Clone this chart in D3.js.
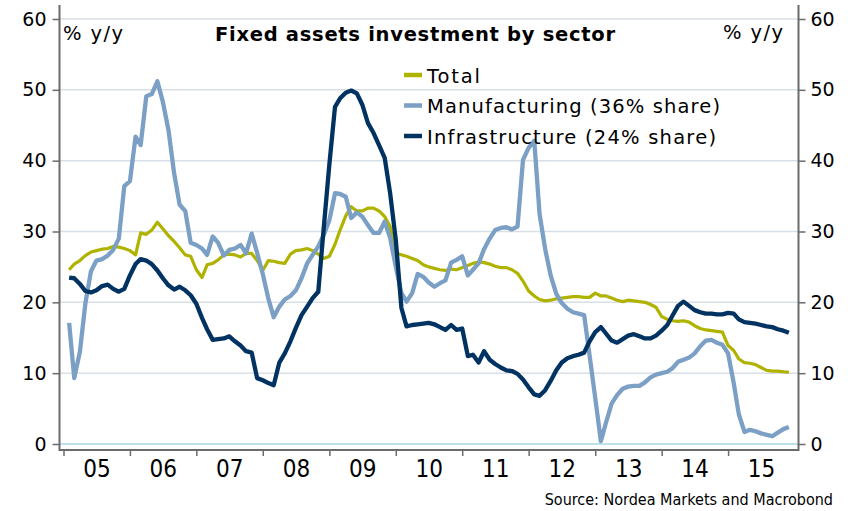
<!DOCTYPE html>
<html>
<head>
<meta charset="utf-8">
<title>Fixed assets investment by sector</title>
<script src="https://d3js.org/d3.v7.min.js"></script>
<style>
body { margin: 0; background: #fff; }
svg text { font-family: "DejaVu Sans", Verdana, sans-serif; fill: #000; }
.grid line { stroke: #d7dfe7; stroke-width: 1.5px; }
.grid line.zero { stroke: #a9d4e6; }
.frame { stroke: #6b6b6b; stroke-width: 2px; }
.axis path { display: none; }
.axis line { stroke: #6b6b6b; stroke-width: 1.5px; }
.axis text { font-size: 19px; }
.xaxis text { font-family: "Liberation Sans Narrow", "DejaVu Sans Condensed", sans-serif; font-size: 24px; }
.series { fill: none; stroke-linejoin: round; }
.source { font-family: "Liberation Sans Narrow", "DejaVu Sans Condensed", sans-serif; font-size: 16px; }
</style>
</head>
<body>
<svg id="chart" width="848" height="511"></svg>
<script>

// monthly, Feb 2005 .. Dec 2015, % y/y
var total = [
  24.6, 25.4, 25.9, 26.6, 27.1, 27.3, 27.5, 27.6, 27.9, 27.8, 27.6,
  27.3, 26.7, 29.8, 29.6, 30.2, 31.3, 30.4, 29.4, 28.6, 27.7, 26.7, 26.5,
  24.6, 23.5, 25.3, 25.5, 26.0, 26.7, 26.8, 26.7, 26.4, 26.9, 26.9, 25.9,
  24.5, 25.9, 25.8, 25.6, 25.5, 26.8, 27.3, 27.4, 27.6, 27.3, 26.8, 26.2,
  26.5, 28.2, 30.2, 32.2, 33.5, 32.9, 32.9, 33.3, 33.3, 32.9, 32.1, 30.7,
  27.0, 26.7, 26.5, 26.2, 25.9, 25.3, 25.0, 24.8, 24.6, 24.5, 24.7, 24.6,
  24.9, 25.2, 25.5, 25.7, 25.6, 25.4, 25.1, 24.9, 24.9, 24.6, 24.1, 23.0,
  21.6, 20.9, 20.4, 20.2, 20.3, 20.5, 20.6, 20.7, 20.8, 20.8, 20.7, 20.7,
  21.3, 20.9, 20.9, 20.6, 20.3, 20.1, 20.3, 20.2, 20.1, 20.0, 19.7, 19.3,
  18.0, 17.6, 17.4, 17.3, 17.4, 17.2, 16.7, 16.3, 16.1, 16.0, 15.9, 15.8,
  13.9, 13.2, 12.0, 11.5, 11.4, 11.2, 10.8, 10.4, 10.3, 10.3, 10.2, 10.1
];
var manufacturing = [
  17.1, 9.3, 13.0, 19.8, 24.4, 25.9, 26.1, 26.6, 27.4, 29.0, 36.4,
  37.1, 43.4, 42.2, 49.1, 49.4, 51.2, 48.3, 44.3, 38.2, 33.8, 32.9, 28.4,
  28.1, 27.6, 26.7, 29.3, 28.4, 26.6, 27.4, 27.6, 28.1, 26.9, 29.7, 27.0,
  24.0, 20.5, 17.9, 19.4, 20.4, 20.9, 21.7, 23.4, 25.5, 26.7, 27.9, 29.5,
  31.6, 35.4, 35.3, 34.9, 31.9, 32.7, 32.1, 30.9, 29.8, 29.8, 31.4, 29.1,
  25.0, 21.3, 20.1, 21.3, 24.0, 23.6, 22.8, 22.2, 22.7, 23.1, 25.6, 26.0,
  26.5, 23.8, 24.6, 25.5, 27.5, 29.0, 30.2, 30.5, 30.6, 30.3, 30.7, 40.1,
  41.8, 42.8, 32.5, 27.5, 23.8, 21.2, 19.9, 19.1, 18.6, 18.4, 18.2, 12.5,
  6.5, 0.4, 3.0, 5.7, 6.9, 7.8, 8.1, 8.2, 8.2, 8.7, 9.4, 9.8,
  10.0, 10.2, 10.7, 11.6, 11.9, 12.2, 12.8, 13.8, 14.6, 14.7, 14.3, 14.0,
  12.8, 8.6, 4.2, 1.7, 2.0, 1.8, 1.5, 1.3, 1.1, 1.6, 2.1, 2.4
];
var infrastructure = [
  23.5, 23.4, 22.6, 21.6, 21.4, 21.7, 22.3, 22.5, 21.9, 21.5, 21.9,
  23.8, 25.4, 26.1, 25.9, 25.4, 24.5, 23.4, 22.4, 21.8, 22.2, 21.7, 21.0,
  19.8, 17.8, 16.2, 14.7, 14.8, 14.9, 15.2, 14.5, 13.9, 13.1, 12.9, 9.3,
  9.0, 8.6, 8.3, 11.5, 12.8, 14.5, 16.4, 18.2, 19.4, 20.6, 21.5, 30.5,
  39.5, 47.6, 48.8, 49.6, 49.9, 49.5, 47.9, 45.3, 43.9, 42.2, 40.4, 35.4,
  28.8, 19.2, 16.6, 16.8, 16.9, 17.0, 17.1, 16.9, 16.5, 16.1, 16.8, 16.1,
  16.3, 12.4, 12.6, 11.5, 13.1, 11.9, 11.3, 10.8, 10.4, 10.3, 9.9, 9.1,
  8.0, 7.0, 6.8, 7.6, 8.9, 10.4, 11.5, 12.1, 12.4, 12.6, 12.9, 14.5,
  15.8, 16.5, 15.6, 14.6, 14.3, 14.8, 15.3, 15.5, 15.2, 14.9, 14.9, 15.3,
  16.0, 16.8, 18.1, 19.5, 20.1, 19.5, 18.9, 18.6, 18.4, 18.4, 18.3, 18.3,
  18.5, 18.4, 17.6, 17.2, 17.1, 17.0, 16.8, 16.6, 16.5, 16.2, 16.0, 15.7
];

var seriesNames = ["Total", "Manufacturing (36% share)", "Infrastructure (24% share)"];
var seriesColors = ["#afb300", "#7b9fc5", "#003262"];
var yTickValues = [0, 10, 20, 30, 40, 50, 60];
var yearLabels = ["05", "06", "07", "08", "09", "10", "11", "12", "13", "14", "15"];

var firstMonth = new Date(2005, 1, 1);
var months = total.map(function (d, i) { return d3.timeMonth.offset(firstMonth, i); });
var yearStarts = yearLabels.map(function (d, i) { return new Date(2005 + i, 0, 1); });
var yearMids = yearLabels.map(function (d, i) { return new Date(2005 + i, 6, 1); });

var svg = d3.select("#chart");

var plotLeft = 59.5, plotRight = 798.5, plotTop = 5, plotBottom = 450;

var x = d3.scaleTime()
    .domain([new Date(2005, 0, 1), new Date(2016, 0, 1)])
    .range([63.5, 794.5]);
// 0 sits at y=444, 60 at y=19
var y = d3.scaleLinear()
    .domain([0, 60])
    .range([444, 19]);

// grid
var grid = svg.append("g").attr("class", "grid");
grid.selectAll("line")
    .data(yTickValues)
  .enter().append("line")
    .classed("zero", function (d) { return d === 0; })
    .attr("x1", plotLeft)
    .attr("x2", plotRight)
    .attr("y1", function (d) { return y(d); })
    .attr("y2", function (d) { return y(d); });

// axes
svg.append("g")
    .attr("class", "axis")
    .attr("transform", "translate(" + plotLeft + ",0)")
    .call(d3.axisLeft(y).tickValues(yTickValues).tickSize(7).tickPadding(6).tickSizeOuter(0));

svg.append("g")
    .attr("class", "axis")
    .attr("transform", "translate(" + plotRight + ",0)")
    .call(d3.axisRight(y).tickValues(yTickValues).tickSize(7).tickPadding(5).tickSizeOuter(0));

svg.append("g")
    .attr("class", "axis")
    .attr("transform", "translate(0," + plotBottom + ")")
    .call(d3.axisBottom(x).tickValues(yearStarts).tickFormat("").tickSize(6).tickSizeOuter(0));

svg.append("g")
    .attr("class", "axis xaxis")
    .attr("transform", "translate(0," + plotBottom + ")")
    .call(d3.axisBottom(x).tickValues(yearMids)
      .tickFormat(function (d, i) { return yearLabels[i]; })
      .tickSize(0).tickPadding(10));

var frame = svg.append("g");
frame.append("line").attr("class", "frame")
    .attr("x1", plotLeft).attr("x2", plotLeft).attr("y1", plotTop).attr("y2", plotBottom + 1);
frame.append("line").attr("class", "frame")
    .attr("x1", plotRight).attr("x2", plotRight).attr("y1", plotTop).attr("y2", plotBottom + 1);
frame.append("line").attr("class", "frame")
    .attr("x1", plotLeft).attr("x2", plotRight).attr("y1", plotBottom).attr("y2", plotBottom);

// lines
var line = d3.line()
    .x(function (d, i) { return x(months[i]); })
    .y(function (d) { return y(d); });

var seriesData = [total, manufacturing, infrastructure];
var seriesWidths = [3.2, 4.3, 4.3];

svg.append("g").selectAll("path")
    .data(seriesData)
  .enter().append("path")
    .attr("class", "series")
    .attr("d", line)
    .attr("stroke", function (d, i) { return seriesColors[i]; })
    .attr("stroke-width", function (d, i) { return seriesWidths[i]; });

// titles
svg.append("text")
    .attr("x", 415).attr("y", 41)
    .attr("text-anchor", "middle")
    .attr("font-weight", "bold")
    .attr("font-size", 19.5)
    .attr("textLength", 400)
    .text("Fixed assets investment by sector");

svg.append("text")
    .attr("x", 63).attr("y", 40)
    .attr("font-size", 19.5)
    .attr("textLength", 60)
    .text("% y/y");

svg.append("text")
    .attr("x", 723).attr("y", 39)
    .attr("font-size", 19.5)
    .attr("textLength", 60)
    .text("% y/y");

// legend
var legendWidths = [53, 293, 289];
var legend = svg.append("g").selectAll("g")
    .data(seriesNames)
  .enter().append("g")
    .attr("transform", function (d, i) { return "translate(404," + (75 + i * 30.5) + ")"; });
legend.append("line")
    .attr("x1", 0).attr("x2", 18)
    .attr("stroke", function (d, i) { return seriesColors[i]; })
    .attr("stroke-width", 4.5);
legend.append("text")
    .attr("x", 23).attr("y", 7.5)
    .attr("font-size", 19.5)
    .attr("textLength", function (d, i) { return legendWidths[i]; })
    .text(function (d) { return d; });

svg.append("text")
    .attr("class", "source")
    .attr("x", 833).attr("y", 505)
    .attr("text-anchor", "end")
    .text("Source: Nordea Markets and Macrobond");

</script>
</body>
</html>
